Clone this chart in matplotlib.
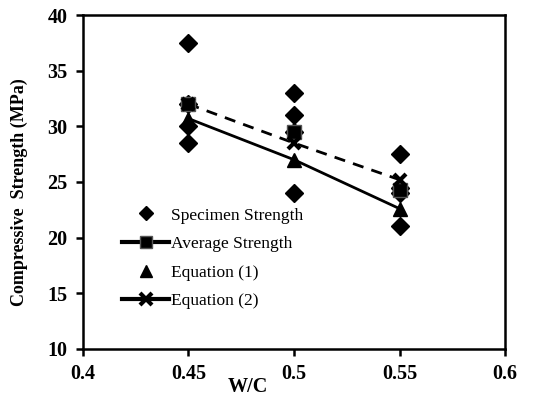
import numpy as np
import matplotlib
matplotlib.use('Agg')
import matplotlib.pyplot as plt
from matplotlib.lines import Line2D

plt.rcParams['font.family'] = ['Liberation Serif', 'DejaVu Serif']

# data
wc = [0.45, 0.5, 0.55]
spec_x = [0.45, 0.45, 0.45, 0.45, 0.5, 0.5, 0.5, 0.5, 0.55, 0.55, 0.55, 0.55]
spec_y = [37.5, 32.0, 30.0, 28.5, 33.0, 31.0, 29.5, 24.0, 27.5, 24.5, 24.0, 21.0]
avg = [32.0, 29.5, 24.3]
eq1 = [30.7, 27.0, 22.6]
eq2 = [32.0, 28.5, 25.2]

fig = plt.figure(figsize=(5.34, 3.96), dpi=100)
ax = fig.add_axes([0.155, 0.119, 0.791, 0.843])

ax.plot(wc, eq1, color='k', lw=2, zorder=2)
ax.plot(wc, eq2, color='k', lw=2, ls=(0, (4, 3)), zorder=2)
ax.plot(spec_x, spec_y, ls='none', marker='D', ms=9.5, color='k', zorder=3)
ax.plot(wc, avg, ls='none', marker='s', ms=10, mfc='k', mec='#555555', mew=1, zorder=4)
ax.plot(wc, eq1, ls='none', marker='^', ms=10, color='k', zorder=5)
ax.plot(wc, eq2, ls='none', marker='x', ms=9, mew=3, color='k', zorder=6)

ax.set_xlim(0.4, 0.6)
ax.set_ylim(10, 40)
ax.set_xticks([0.4, 0.45, 0.5, 0.55, 0.6])
ax.set_xticklabels(['0.4', '0.45', '0.5', '0.55', '0.6'])
ax.set_yticks(np.arange(10, 41, 5))
for s in ax.spines.values():
    s.set_linewidth(1.8)
ax.tick_params(direction='out', length=5, width=1.8, labelsize=14.5, pad=6)
for lab in ax.get_xticklabels() + ax.get_yticklabels():
    lab.set_fontweight('bold')

ax.set_xlabel('W/C', fontsize=14.5, fontweight='bold')
ax.xaxis.set_label_coords(0.39, -0.085)
ax.set_ylabel('Compressive  Strength (MPa)', fontsize=13, fontweight='bold')
ax.yaxis.set_label_coords(-0.13, 0.47)

handles = [
    Line2D([], [], ls='none', marker='D', ms=7, color='k'),
    Line2D([], [], color='k', lw=3, marker='s', ms=8, mfc='k', mec='#555555'),
    Line2D([], [], ls='none', marker='^', ms=8, color='k'),
    Line2D([], [], color='k', lw=3, marker='x', ms=8, mew=3),
]
labels = ['Specimen Strength', 'Average Strength', 'Equation (1)', 'Equation (2)']
ax.legend(handles, labels, loc='center left', bbox_to_anchor=(0.092, 0.271),
          frameon=False, fontsize=12.5, handlelength=2.75, handletextpad=0.1,
          labelspacing=0.72, borderaxespad=0, borderpad=0)

fig.savefig('out.png', dpi=100)
